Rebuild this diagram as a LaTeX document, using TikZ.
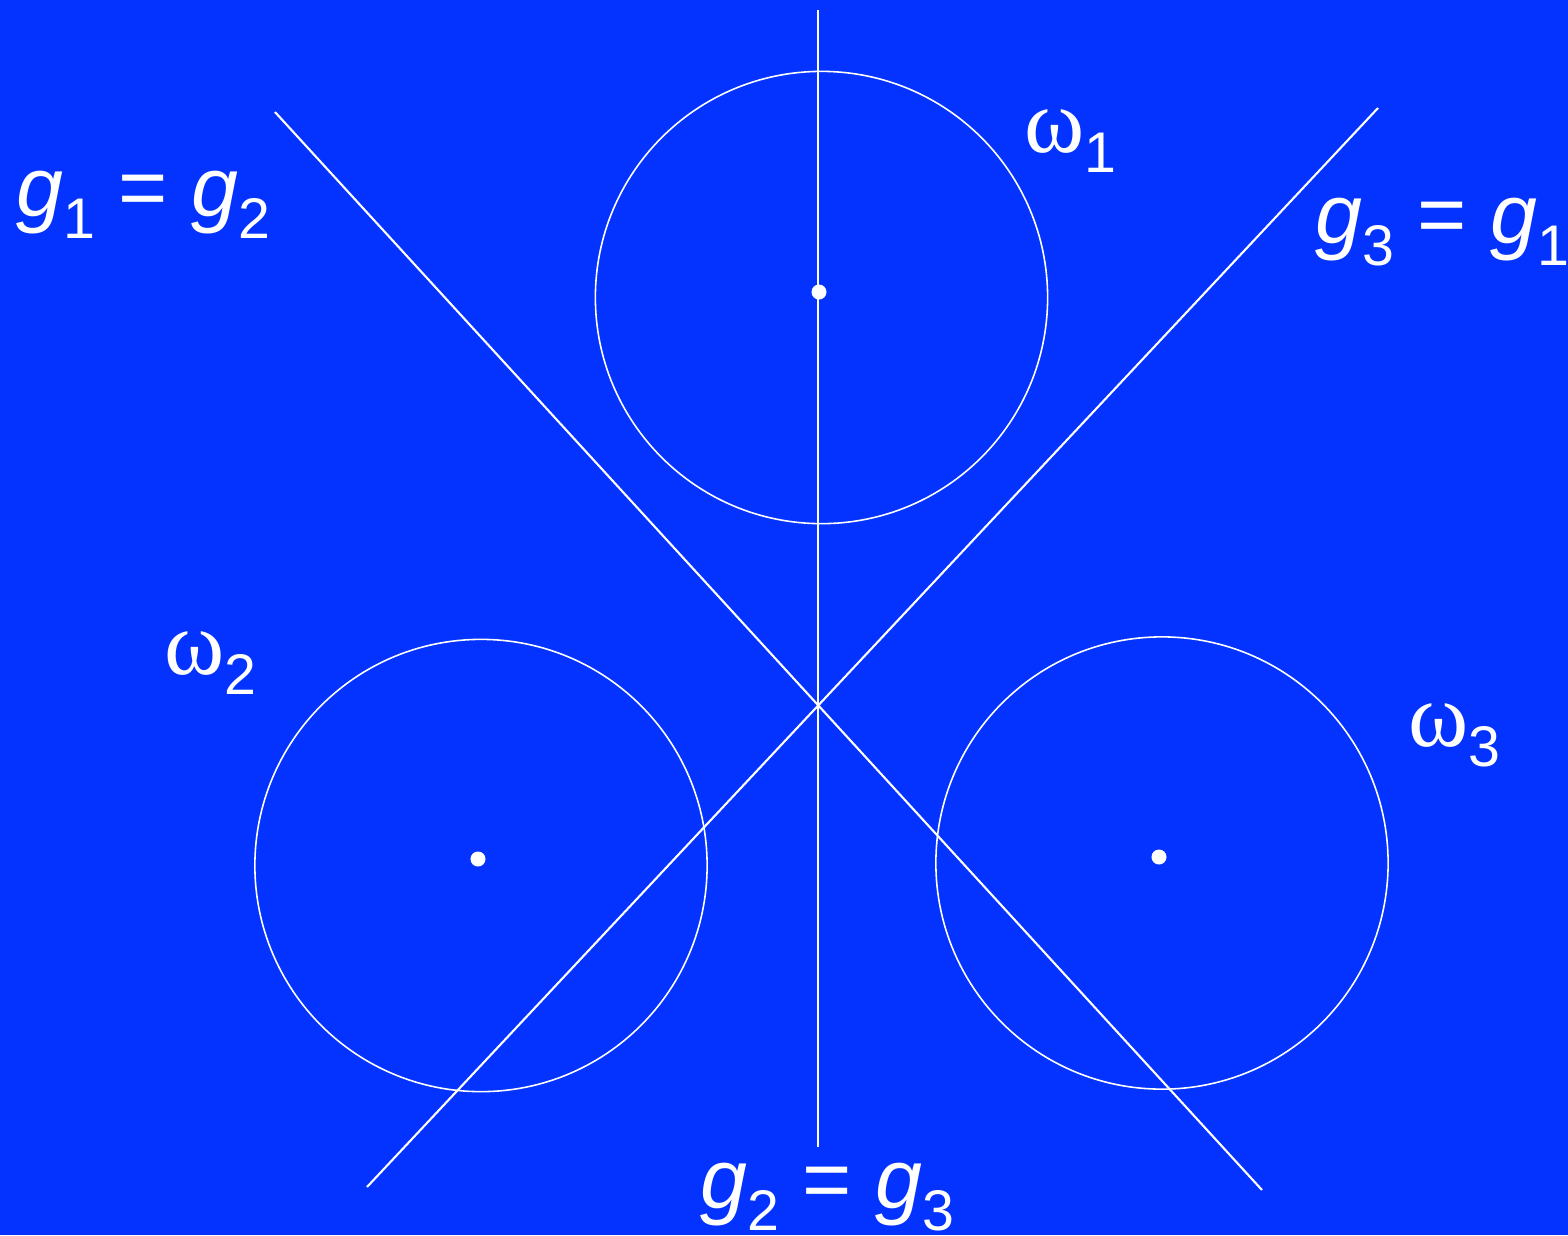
\documentclass[tikz,border=0pt]{standalone}
\usepackage{fontspec}
\setmainfont{Liberation Sans}
\newfontfamily\greekserif{Liberation Serif}
\usetikzlibrary{positioning}
\definecolor{deepblue}{HTML}{0433FF}
\newcommand{\labsize}{\fontsize{24}{28}\selectfont}
\newcommand{\subsize}{\fontsize{16.3}{18}\selectfont}
\newcommand{\gvar}[1]{\textit{g}\raisebox{-0.22cm}{\subsize #1}}
\newcommand{\omvar}[1]{{\greekserif\fontsize{26}{30}\selectfont ω}\raisebox{-0.2cm}{\subsize #1}}

\begin{document}
\begin{tikzpicture}[x=0.01cm,y=-0.01cm,
    rule/.style={white,line width=0.6pt},
    disc/.style={white,line width=0.45pt},
    lab/.style={text=white,font=\labsize,inner sep=0pt,anchor=base west}]
  \useasboundingbox (0,0) rectangle (1568,1235);
  \fill[deepblue] (0,0) rectangle (1568,1235);
  % the three bisectors
  \coordinate (axtop) at (818,10);
  \coordinate (axbot) at (818,1147);
  \coordinate (nw) at (275,112);
  \coordinate (se) at (1262,1190);
  \coordinate (ne) at (1378,108);
  \coordinate (sw) at (367,1187);
  \draw[rule] (axtop) -- (axbot);
  \draw[rule] (nw) -- (se);
  \draw[rule] (ne) -- (sw);
  % circles and their centres
  \foreach \name/\cx/\cy/\dx/\dy in {c1/821.5/297.5/819/292, c2/481/865.5/478/859, c3/1162/863/1159/857}{
    \draw[disc] (\cx,\cy) circle[radius=2.26cm];
    \fill[white] (\dx,\dy) circle[radius=0.075cm];
  }
  % labels
  \node[lab] (g12) at (16,216) {\gvar{1} = \gvar{2}};
  \node[lab] (g31) at (1315,243) {\gvar{3} = \gvar{1}};
  \node[lab] (g23) at (700,1208) {\gvar{2} = \gvar{3}};
  \node[lab] (om1) at (1024,152) {\omvar{1}};
  \node[lab] (om2) at (164,674) {\omvar{2}};
  \node[lab] (om3) at (1408,746) {\omvar{3}};
\end{tikzpicture}
\end{document}
